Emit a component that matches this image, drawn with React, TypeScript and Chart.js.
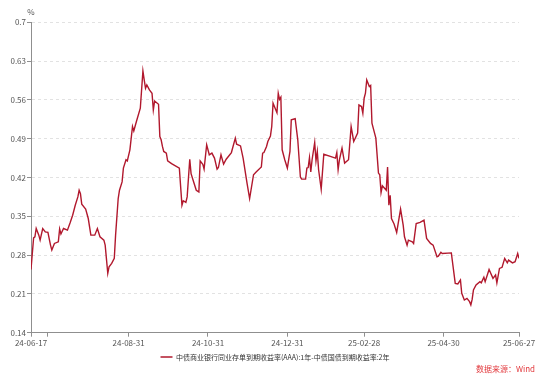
import React, { useEffect, useRef } from 'react';
import { Chart, registerables } from 'chart.js';

Chart.register(...registerables);

const startDate = '2024-06-17';
const seriesName = '中债商业银行同业存单到期收益率(AAA):1年-中债国债到期收益率:2年';
const unitLabel = '%';
const sourceLabel = '数据来源：Wind';

// days since startDate
const dayOffsets = [
  0, 2, 3, 4, 6, 7, 9, 11, 13, 15, 16, 18, 21, 22, 23, 25, 28, 30, 32, 34, 36, 37, 38, 39, 42, 44, 46, 49, 51, 53, 56, 57, 59,
  60, 62, 64, 65, 67, 68, 70, 71, 73, 74, 76, 78, 79, 81, 84, 86, 87, 88, 89, 91, 93, 94, 95, 98, 99, 100, 101, 102, 104, 105,
  108, 114, 115, 116, 117, 119, 120, 122, 123, 125, 127, 129, 130, 132, 133, 135, 137, 139, 141, 143, 144, 146, 148, 150, 154,
  157, 158, 161, 163, 166, 168, 171, 173, 177, 178, 179, 181, 182, 184, 185, 186, 189, 190, 191, 192, 193, 195, 197, 199, 200,
  203, 205, 207, 208, 211, 212, 213, 214, 215, 216, 218, 219, 220, 221, 223, 225, 230, 234, 235, 236, 237, 239, 241, 244, 246,
  248, 251, 252, 254, 255, 256, 257, 258, 260, 261, 262, 265, 267, 268, 269, 270, 273, 274, 275, 276, 277, 279, 281, 284, 286,
  287, 289, 290, 293, 294, 296, 299, 302, 304, 307, 309, 312, 313, 315, 316, 323, 326, 328, 330, 331, 333, 335, 337, 338, 339,
  340, 342, 345, 346, 348, 349, 352, 355, 357, 358, 360, 362, 364, 366, 367, 370, 372, 374, 375,
];

const spreadValues = [
  0.254, 0.311, 0.313, 0.328, 0.316, 0.307, 0.328, 0.322, 0.321, 0.298, 0.289, 0.301, 0.304, 0.327, 0.318, 0.328, 0.325, 0.338,
  0.352, 0.370, 0.385, 0.397, 0.391, 0.372, 0.363, 0.346, 0.316, 0.316, 0.328, 0.313, 0.307, 0.298, 0.247,
  0.259, 0.265, 0.274, 0.316, 0.382, 0.397, 0.412, 0.437, 0.452, 0.450, 0.470, 0.512, 0.504, 0.521, 0.545, 0.612, 0.596, 0.581,
  0.587, 0.578, 0.572, 0.542, 0.558, 0.552, 0.494, 0.488, 0.476, 0.467, 0.464, 0.450,
  0.445, 0.437, 0.403, 0.370, 0.378, 0.375, 0.385, 0.453, 0.427, 0.412, 0.397, 0.394, 0.450, 0.444, 0.435, 0.479, 0.461, 0.464,
  0.455, 0.435, 0.438, 0.461, 0.444, 0.453, 0.465,
  0.491, 0.480, 0.477, 0.455, 0.410, 0.382, 0.425, 0.430, 0.439, 0.464, 0.465, 0.476, 0.485, 0.495, 0.512, 0.554, 0.537, 0.572,
  0.561, 0.565, 0.470, 0.452, 0.437, 0.467, 0.524,
  0.526, 0.488, 0.421, 0.417, 0.417, 0.437, 0.438, 0.456, 0.430, 0.452, 0.483, 0.450, 0.467, 0.434, 0.399, 0.462, 0.458, 0.455,
  0.465, 0.434, 0.452, 0.473, 0.446, 0.452, 0.512,
  0.485, 0.500, 0.551, 0.548, 0.536, 0.563, 0.572, 0.596, 0.584, 0.586, 0.518, 0.491, 0.428, 0.425, 0.393, 0.405, 0.397, 0.439,
  0.370, 0.388, 0.346, 0.336, 0.321, 0.363, 0.334,
  0.313, 0.298, 0.307, 0.304, 0.301, 0.337, 0.339, 0.343, 0.310, 0.301, 0.298, 0.277, 0.278, 0.285, 0.283, 0.284, 0.229, 0.228,
  0.235, 0.211, 0.199, 0.202, 0.196, 0.190, 0.200,
  0.217, 0.226, 0.232, 0.230, 0.240, 0.232, 0.254, 0.238, 0.244, 0.230, 0.256, 0.258, 0.274, 0.266, 0.271, 0.266, 0.268, 0.283,
  0.274,
];

const xTickDays = [0, 13, 75, 136, 197, 256, 317, 375];
const xTickLabels = ['24-06-17', '', '24-08-31', '24-10-31', '24-12-31', '25-02-28', '25-04-30', '25-06-27'];
const yTickValues = [0.14, 0.21, 0.28, 0.35, 0.42, 0.49, 0.56, 0.63, 0.7];
const yTickLabels = ['0.14', '0.21', '0.28', '0.35', '0.42', '0.49', '0.56', '0.63', '0.7'];

const LINE_COLOR = '#b1182d';
const AXIS_COLOR = '#8f8f8f';
const TICK_TEXT = '#555555';
const FONT_FAMILY = '"Noto Sans CJK SC", "Noto Sans", sans-serif';

export default function App() {
  const canvasRef = useRef<HTMLCanvasElement | null>(null);

  useEffect(() => {
    document.body.style.margin = '0';
    const canvas = canvasRef.current;
    if (!canvas) return;

    const unitPlugin = {
      id: 'unitLabel',
      afterDraw(chart: any) {
        const { ctx, chartArea } = chart;
        ctx.save();
        ctx.font = `8px ${FONT_FAMILY}`;
        ctx.fillStyle = TICK_TEXT;
        ctx.textAlign = 'center';
        ctx.textBaseline = 'middle';
        ctx.fillText(unitLabel, chartArea.left, 12);
        ctx.restore();
      },
    };

    const chart = new Chart(canvas, {
      type: 'line',
      data: {
        datasets: [
          {
            label: seriesName,
            data: dayOffsets.map((d, i) => ({ x: d, y: spreadValues[i] })),
            borderColor: LINE_COLOR,
            backgroundColor: LINE_COLOR,
            borderWidth: 1.4,
            pointRadius: 0,
            tension: 0,
          },
        ],
      },
      options: {
        responsive: false,
        animation: false,
        layout: { padding: { left: 0, right: 31, top: 22.3, bottom: 10.5 } },
        plugins: {
          tooltip: { enabled: false },
          legend: {
            position: 'bottom',
            fullSize: false,
            labels: {
              usePointStyle: true,
              pointStyle: 'line',
              pointStyleWidth: 12,
              boxHeight: 7,
              padding: 4,
              color: '#333333',
              font: { size: 7, family: FONT_FAMILY },
            },
          },
        },
        scales: {
          x: {
            type: 'linear',
            min: 0,
            max: 375,
            afterBuildTicks: (s: any) => {
              s.ticks = xTickDays.map((v) => ({ value: v }));
            },
            afterFit: (s: any) => {
              s.height = 16.8;
            },
            ticks: {
              autoSkip: false,
              maxRotation: 0,
              padding: 1,
              color: TICK_TEXT,
              font: { size: 8, family: FONT_FAMILY },
              callback: (_v: any, i: number) => xTickLabels[i],
            },
            grid: { drawOnChartArea: false, drawTicks: true, tickLength: 4, tickColor: AXIS_COLOR },
            border: { color: AXIS_COLOR, width: 1 },
          },
          y: {
            min: 0.14,
            max: 0.7,
            afterBuildTicks: (s: any) => {
              s.ticks = yTickValues.map((v) => ({ value: v }));
            },
            afterFit: (s: any) => {
              s.width = 31;
            },
            ticks: {
              padding: 1,
              color: TICK_TEXT,
              font: { size: 8, family: FONT_FAMILY },
              callback: (_v: any, i: number) => yTickLabels[i],
            },
            grid: {
              color: '#e2e2e2',
              tickLength: 4,
              tickColor: AXIS_COLOR,
              tickBorderDash: [],
            },
            border: { color: AXIS_COLOR, width: 1, dash: [3, 3] },
          },
        },
      },
      plugins: [unitPlugin],
    });

    return () => chart.destroy();
  }, []);

  return (
    <div style={{ position: 'fixed', left: 0, top: 0, width: 550, height: 381, background: '#ffffff' }}>
      <canvas ref={canvasRef} width={550} height={381} style={{ width: 550, height: 381, display: 'block' }} />
      <div
        style={{
          position: 'absolute',
          right: 15,
          top: 364,
          fontSize: 8,
          lineHeight: '10px',
          fontFamily: FONT_FAMILY,
          color: '#e23a3e',
          whiteSpace: 'nowrap',
        }}
      >
        {sourceLabel}
      </div>
    </div>
  );
}
